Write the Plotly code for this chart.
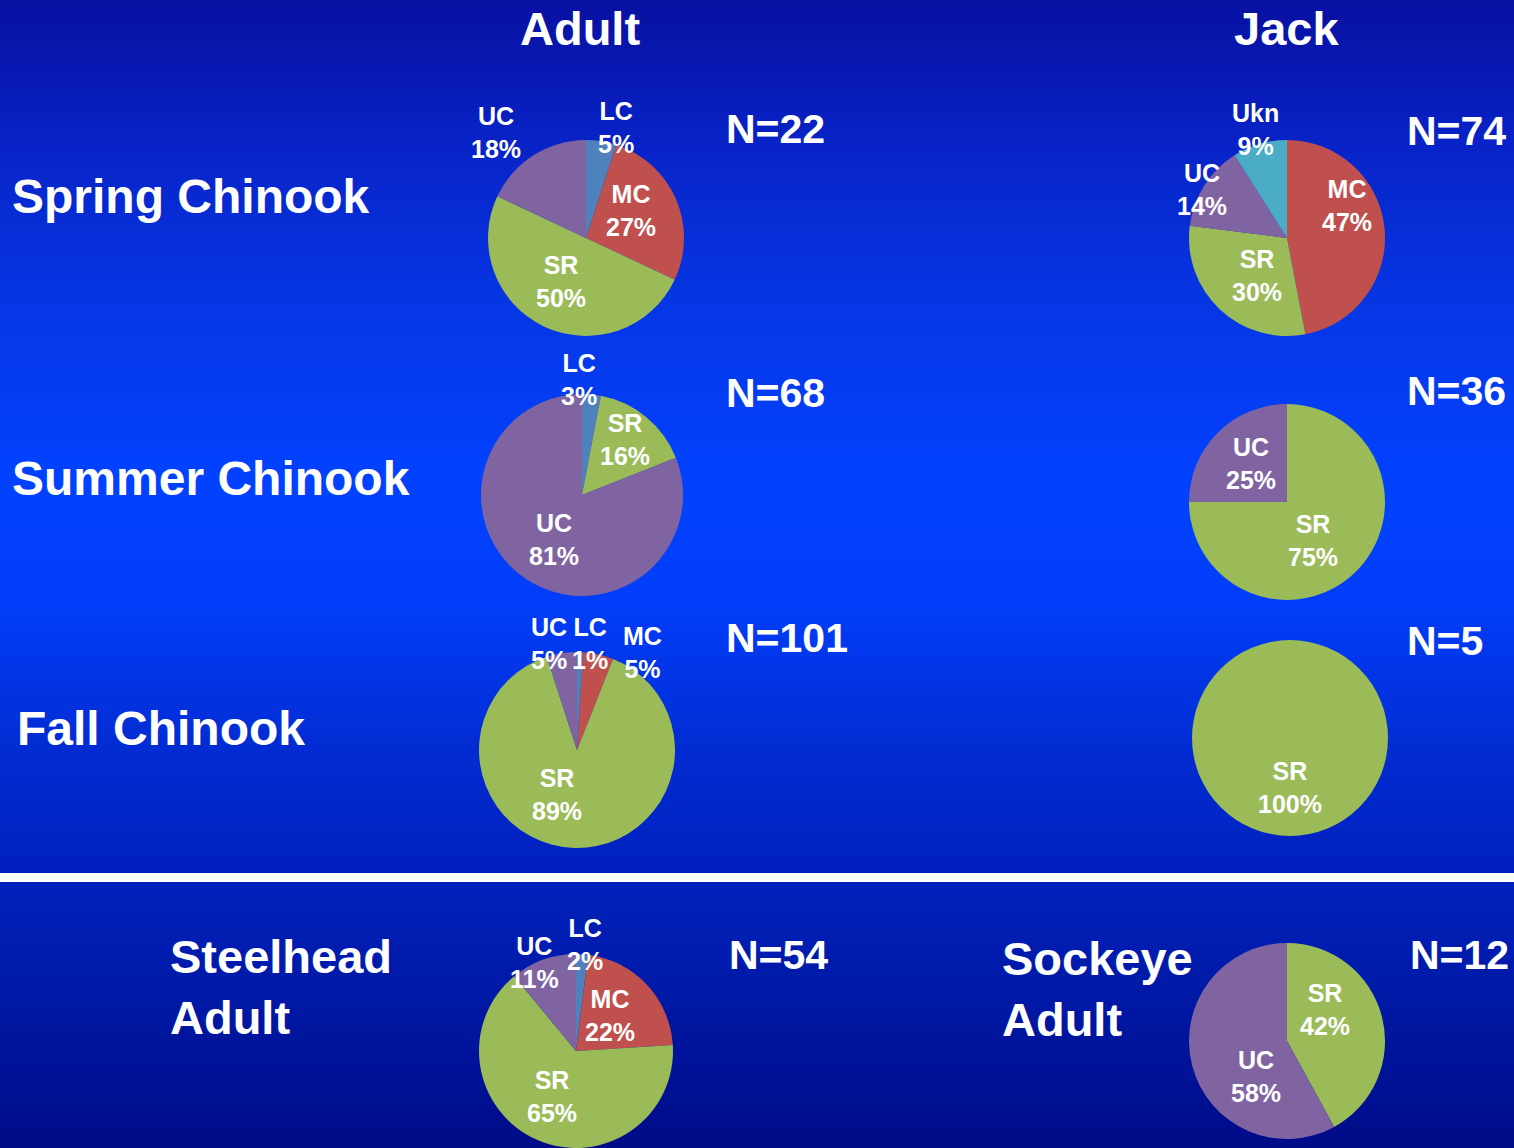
import math
import plotly.graph_objects as go

W, H = 1514, 1148
FONT = "Arial, 'Liberation Sans', sans-serif"

# --- data (percent of fish by origin) ---
spring_adult_labels = ["LC", "MC", "SR", "UC"]
spring_adult_values = [5, 27, 50, 18]
spring_jack_labels = ["MC", "SR", "UC", "Ukn"]
spring_jack_values = [47, 30, 14, 9]
summer_adult_labels = ["LC", "SR", "UC"]
summer_adult_values = [3, 16, 81]
summer_jack_labels = ["SR", "UC"]
summer_jack_values = [75, 25]
fall_adult_labels = ["LC", "MC", "SR", "UC"]
fall_adult_values = [1, 5, 89, 5]
fall_jack_labels = ["SR"]
fall_jack_values = [100]
steelhead_labels = ["LC", "MC", "SR", "UC"]
steelhead_values = [2, 22, 65, 11]
sockeye_labels = ["SR", "UC"]
sockeye_values = [42, 58]

sample_sizes = [22, 74, 68, 36, 101, 5, 54, 12]
row_titles = ["Spring Chinook", "Summer Chinook", "Fall Chinook"]
col_titles = ["Adult", "Jack"]

colors = {"LC": "#4f81bd", "MC": "#c0504d", "SR": "#9bbb59",
          "UC": "#8064a2", "Ukn": "#4bacc6"}

# pie placement (center x, center y, radius in px) and label nudges (radius factor, angle shift)
pies = [
    (spring_adult_labels, spring_adult_values, 586, 238, 98,
     [(1.17, 6), (0.54, -8), (0.51, 5), (1.42, -8)]),
    (spring_jack_labels, spring_jack_values, 1287, 238, 98,
     [(0.70, -23), (0.49, -4), (1.0, -3), (1.15, 0)]),
    (summer_adult_labels, summer_adult_values, 582, 495, 101,
     [(1.14, -7), (0.69, -2), (0.52, -2)]),
    (summer_jack_labels, summer_jack_values, 1287, 502, 98,
     [(0.48, 11), (0.54, 2)]),
    (fall_adult_labels, fall_adult_values, 577, 750, 98,
     [(1.09, 5), (1.20, 21), (0.50, 22), (1.12, -6)]),
    (fall_jack_labels, fall_jack_values, 1290, 738, 98,
     [(0.51, 0)]),
    (steelhead_labels, steelhead_values, 576, 1051, 97,
     [(1.10, 1), (0.50, -3), (0.53, 5), (1.01, -5)]),
    (sockeye_labels, sockeye_values, 1287, 1041, 98,
     [(0.50, -25), (0.48, -34)]),
]

fig = go.Figure()
annotations = []

for labels, values, cx, cy, r, nudges in pies:
    x0 = max(0, (cx - r) / W)
    x1 = min(1, (cx + r) / W)
    y0 = max(0, 1 - (cy + r) / H)
    y1 = min(1, 1 - (cy - r) / H)
    fig.add_trace(go.Pie(
        labels=labels, values=values, sort=False, direction="clockwise",
        rotation=0, textinfo="none", showlegend=False,
        marker=dict(colors=[colors[l] for l in labels], line=dict(width=0)),
        domain=dict(x=[x0, x1], y=[y0, y1]),
        hovertemplate="%{label}: %{value}%<extra></extra>",
    ))
    total = sum(values)
    cum = 0
    for lab, val, (k, dth) in zip(labels, values, nudges):
        mid = (cum + val / 2) / total
        cum += val
        th = math.radians(360 * mid + dth)
        px = cx + k * r * math.sin(th)
        py = cy - k * r * math.cos(th)
        annotations.append(dict(
            x=px / W, y=1 - py / H, xref="paper", yref="paper",
            text=f"{lab}<br>{val}%", showarrow=False,
            xanchor="center", yanchor="middle",
            font=dict(family=FONT, size=25, color="white", weight="bold"),
        ))

def label(text, x, y, size, anchor="left"):
    annotations.append(dict(
        x=x / W, y=1 - y / H, xref="paper", yref="paper", text=text,
        showarrow=False, xanchor=anchor, yanchor="middle", align="left",
        font=dict(family=FONT, size=size, color="white", weight="bold"),
    ))

label(col_titles[0], 580, 28, 47, "center")
label(col_titles[1], 1286, 28, 47, "center")
label(row_titles[0], 10, 196, 48)
label(row_titles[1], 10, 478, 48)
label(row_titles[2], 15, 728, 48)
label("Steelhead<br>Adult", 168, 987, 47)
label("Sockeye<br>Adult", 1000, 989, 47)

n_pos = [(724, 129), (1405, 131), (724, 393), (1405, 391),
         (724, 638), (1405, 641), (727, 955), (1408, 955)]
for n, (x, y) in zip(sample_sizes, n_pos):
    label(f"N={n}", x, y, 41)

# background gradient built from thin strips
def interp(stops, y):
    for (ya, ca), (yb, cb) in zip(stops, stops[1:]):
        if ya <= y <= yb:
            t = (y - ya) / (yb - ya)
            return tuple(round(a + (b - a) * t) for a, b in zip(ca, cb))
    return stops[-1][1]

top_stops = [(0, (8, 16, 160)), (150, (8, 36, 200)), (300, (6, 54, 228)),
             (480, (2, 66, 255)), (600, (2, 62, 250)), (750, (2, 44, 210)),
             (873, (0, 32, 190))]
bottom_stops = [(882, (0, 34, 188)), (1148, (0, 12, 136))]

shapes = []
step = 4
for stops, ya, yb in [(top_stops, 0, 873), (bottom_stops, 882, 1148)]:
    y = ya
    while y < yb:
        c = interp(stops, y + step / 2)
        shapes.append(dict(
            type="rect", xref="paper", yref="paper", layer="below",
            x0=0, x1=1, y0=1 - min(y + step + 0.5, yb) / H, y1=1 - y / H,
            fillcolor=f"rgb({c[0]},{c[1]},{c[2]})", line=dict(width=0),
        ))
        y += step
shapes.append(dict(type="rect", xref="paper", yref="paper", layer="below",
                   x0=0, x1=1, y0=1 - 882 / H, y1=1 - 873 / H,
                   fillcolor="white", line=dict(width=0)))

fig.update_layout(
    width=W, height=H, margin=dict(l=0, r=0, t=0, b=0),
    paper_bgcolor="#0020c0", plot_bgcolor="rgba(0,0,0,0)",
    shapes=shapes, annotations=annotations,
)

fig.write_html("out.html", config={"displayModeBar": False},
               post_script="document.body.style.margin='0';document.body.style.overflow='hidden';")
